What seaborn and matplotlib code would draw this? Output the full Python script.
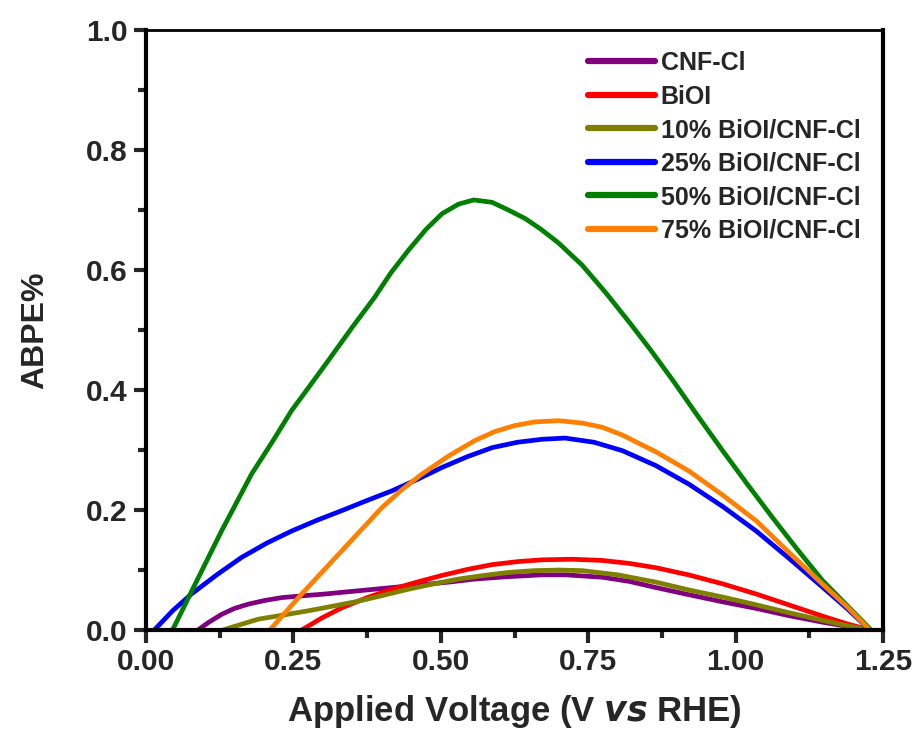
import numpy as np
import pandas as pd
import seaborn as sns
import matplotlib
matplotlib.use("Agg")
import matplotlib.pyplot as plt
from matplotlib.ticker import MultipleLocator, FormatStrFormatter

# ---- data ----
labels = ["CNF-Cl", "BiOI", "10% BiOI/CNF-Cl", "25% BiOI/CNF-Cl",
          "50% BiOI/CNF-Cl", "75% BiOI/CNF-Cl"]
colors = ["#800080", "#ff0000", "#808000", "#0000ff", "#008000", "#ff8000"]

cnf_v = [0.088, 0.105, 0.128, 0.150, 0.173, 0.200, 0.230, 0.265, 0.303, 0.345, 0.388, 0.430, 0.473, 0.515,
         0.558, 0.615, 0.672, 0.711, 0.774, 0.820, 0.864, 0.920, 0.978, 1.035, 1.090, 1.148, 1.190, 1.228]
cnf_y = [0.0, 0.012, 0.026, 0.036, 0.043, 0.049, 0.054, 0.057, 0.060, 0.064, 0.068, 0.072, 0.076, 0.080,
         0.085, 0.089, 0.092, 0.092, 0.088, 0.081, 0.071, 0.059, 0.047, 0.036, 0.024, 0.013, 0.006, 0.0]

bioi_v = [0.264, 0.298, 0.332, 0.375, 0.417, 0.460, 0.502, 0.545, 0.587, 0.630, 0.672, 0.723, 0.774,
          0.820, 0.864, 0.920, 0.978, 1.035, 1.090, 1.148, 1.190, 1.228]
bioi_y = [0.0, 0.020, 0.037, 0.054, 0.068, 0.080, 0.091, 0.101, 0.109, 0.114, 0.117, 0.118, 0.116,
          0.111, 0.104, 0.092, 0.077, 0.060, 0.042, 0.023, 0.010, 0.0]

p10_v = [0.130, 0.160, 0.190, 0.233, 0.275, 0.318, 0.360, 0.403, 0.445, 0.488, 0.530, 0.573, 0.615,
         0.658, 0.700, 0.740, 0.800, 0.864, 0.920, 0.978, 1.035, 1.090, 1.148, 1.190, 1.228]
p10_y = [0.0, 0.009, 0.018, 0.025, 0.032, 0.040, 0.048, 0.058, 0.068, 0.077, 0.085, 0.091, 0.096,
         0.099, 0.100, 0.099, 0.092, 0.080, 0.067, 0.055, 0.042, 0.029, 0.016, 0.007, 0.0]

p25_v = [0.014, 0.045, 0.077, 0.120, 0.162, 0.205, 0.247, 0.290, 0.332, 0.375, 0.417, 0.460, 0.502,
         0.545, 0.587, 0.630, 0.672, 0.711, 0.760, 0.808, 0.865, 0.921, 0.978, 1.035, 1.090, 1.148,
         1.190, 1.228]
p25_y = [0.0, 0.032, 0.060, 0.092, 0.121, 0.145, 0.165, 0.183, 0.199, 0.216, 0.232, 0.251, 0.271,
         0.289, 0.304, 0.313, 0.318, 0.320, 0.313, 0.299, 0.274, 0.243, 0.206, 0.165, 0.120, 0.071,
         0.035, 0.0]

p50_v = [0.045, 0.080, 0.128, 0.179, 0.215, 0.247, 0.280, 0.309, 0.350, 0.388, 0.415, 0.445, 0.475,
         0.502, 0.530, 0.556, 0.587, 0.615, 0.643, 0.670, 0.700, 0.740, 0.780, 0.819, 0.855, 0.893,
         0.935, 0.978, 1.020, 1.063, 1.105, 1.148, 1.190, 1.230]
p50_y = [0.0, 0.070, 0.165, 0.260, 0.315, 0.366, 0.410, 0.449, 0.505, 0.555, 0.595, 0.633, 0.668,
         0.694, 0.710, 0.717, 0.713, 0.700, 0.686, 0.668, 0.645, 0.608, 0.562, 0.514, 0.468, 0.417,
         0.358, 0.299, 0.243, 0.187, 0.134, 0.082, 0.040, 0.0]

p75_v = [0.210, 0.237, 0.264, 0.298, 0.332, 0.366, 0.400, 0.434, 0.468, 0.513, 0.558, 0.592, 0.626,
         0.660, 0.700, 0.740, 0.774, 0.808, 0.865, 0.921, 0.978, 1.035, 1.090, 1.148, 1.190, 1.228]
p75_y = [0.0, 0.030, 0.060, 0.096, 0.132, 0.168, 0.204, 0.234, 0.260, 0.290, 0.316, 0.331, 0.341,
         0.347, 0.349, 0.345, 0.338, 0.325, 0.297, 0.265, 0.225, 0.182, 0.130, 0.076, 0.038, 0.0]

xs = [cnf_v, bioi_v, p10_v, p25_v, p50_v, p75_v]
ys = [cnf_y, bioi_y, p10_y, p25_y, p50_y, p75_y]

frames = []
for lab, xv, yv in zip(labels, xs, ys):
    frames.append(pd.DataFrame({"V": xv, "ABPE": yv, "sample": lab}))
df = pd.concat(frames, ignore_index=True)

sns.set_style("ticks")
plt.rcParams['font.family'] = ['Liberation Sans', 'DejaVu Sans']
plt.rcParams['font.weight'] = 'bold'

fig = plt.figure(figsize=(9.15, 7.36), dpi=100)
ax = fig.add_axes([0.1596, 0.144, 0.8054, 0.815])

sns.lineplot(data=df, x="V", y="ABPE", hue="sample", hue_order=labels,
             palette=dict(zip(labels, colors)), linewidth=3.4, sort=True,
             estimator=None, ax=ax)
for ln in ax.get_lines():
    ln.set_solid_joinstyle('round')
    ln.set_solid_capstyle('round')

ax.set_xlim(0, 1.25)
ax.set_ylim(0, 1.0)
ax.xaxis.set_major_locator(MultipleLocator(0.25))
ax.xaxis.set_minor_locator(MultipleLocator(0.125))
ax.yaxis.set_major_locator(MultipleLocator(0.2))
ax.yaxis.set_minor_locator(MultipleLocator(0.1))
ax.xaxis.set_major_formatter(FormatStrFormatter('%.2f'))
ax.yaxis.set_major_formatter(FormatStrFormatter('%.1f'))

ax.tick_params(axis='both', which='major', direction='out', length=9, width=3,
               labelsize=21.5, pad=4)
ax.tick_params(axis='both', which='minor', direction='out', length=6, width=3)
for lab in ax.get_xticklabels() + ax.get_yticklabels():
    lab.set_fontweight('bold')

for side in ['left', 'bottom', 'right']:
    ax.spines[side].set_linewidth(3)
ax.spines['top'].set_linewidth(2)
for s in ax.spines.values():
    s.set_visible(True)
    s.set_color('black')

ax.set_xlabel("Applied Voltage (V $\\mathbfit{vs}$ RHE)", fontsize=25, fontweight='bold', labelpad=12)
ax.set_ylabel("ABPE%", fontsize=23, fontweight='bold', labelpad=26)

leg = ax.legend(loc='upper right', bbox_to_anchor=(0.99, 0.99), frameon=False,
                fontsize=18, handlelength=2.65, handletextpad=0.25,
                labelspacing=0.38, borderaxespad=0.2)
for t in leg.get_texts():
    t.set_fontweight('bold')
for l in leg.get_lines():
    l.set_linewidth(4.5)

fig.savefig("out.png", dpi=100, facecolor='white')
